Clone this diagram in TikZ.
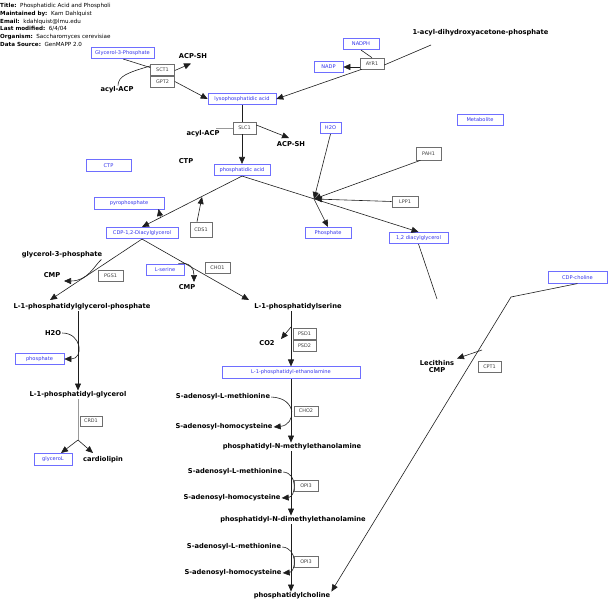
\documentclass[tikz,border=0pt]{standalone}
\usepackage{fontspec}
\setmainfont{DejaVu Sans}
\usetikzlibrary{arrows.meta}
\definecolor{metb}{RGB}{110,110,255}
\definecolor{mett}{RGB}{50,50,235}
\definecolor{geneb}{RGB}{110,110,110}
\definecolor{ln}{RGB}{30,30,30}
\begin{document}
\begin{tikzpicture}[x=1pt,y=-1pt,
  met/.style={draw=metb,line width=0.6pt,text=mett,font=\fontsize{5.1}{6}\selectfont,inner sep=0pt,minimum height=11.5pt},
  gene/.style={draw=geneb,line width=0.6pt,fill=white,text=black!75,font=\fontsize{4.9}{6}\selectfont,inner sep=0pt,minimum height=11pt,minimum width=24pt},
  lab/.style={font=\bfseries\fontsize{6.7}{7.6}\selectfont,inner sep=1pt},
  hdr/.style={font=\fontsize{5.6}{6.5}\selectfont,anchor=west,inner sep=0pt},
  conn/.style={draw=ln,line width=0.6pt},
  arr/.style={conn,-{Triangle[length=7pt,width=6pt]}},
  lite/.style={draw=gray!80,line width=0.6pt}]
\useasboundingbox (0,0) rectangle (615,610);
% header
\node[hdr] (h1) at (0,6) {\textbf{Title:}\ \ Phosphatidic Acid and Phospholi};
\node[hdr] (h2) at (0,14) {\textbf{Maintained by:}\ \ Kam Dahlquist};
\node[hdr] (h3) at (0,21.5) {\textbf{Email:}\ \ kdahlquist@lmu.edu};
\node[hdr] (h4) at (0,29) {\textbf{Last modified:}\ \ 6/4/04};
\node[hdr] (h5) at (0,37) {\textbf{Organism:}\ \ Saccharomyces cerevisiae};
\node[hdr] (h6) at (0,44.5) {\textbf{Data Source:}\ \ GenMAPP 2.0};
% metabolite boxes
\node[met,minimum width=63pt] (g3p) at (122.5,53) {Glycerol-3-Phosphate};
\node[met,minimum width=36pt] (nadph) at (361,44) {NADPH};
\node[met,minimum width=29pt] (nadp) at (328.5,67) {NADP};
\node[met,minimum width=68pt] (lyso) at (242,99) {lysophosphatidic acid};
\node[met,minimum width=21pt] (h2o) at (330.5,128) {H2O};
\node[met,minimum width=46pt] (metab) at (480,120) {Metabolite};
\node[met,minimum width=45pt] (ctpb) at (108.5,165.5) {CTP};
\node[met,minimum width=56pt] (pa) at (242,170) {phosphatidic acid};
\node[met,minimum width=70pt] (pyro) at (129,203.5) {pyrophosphate};
\node[met,minimum width=72pt] (cdp) at (142,233) {CDP-1,2-Diacylglycerol};
\node[met,minimum width=46pt] (phos) at (328,233) {Phosphate};
\node[met,minimum width=59pt] (dag) at (418.5,238) {1,2 diacylglycerol};
\node[met,minimum width=38pt] (ser) at (165,270) {L-serine};
\node[met,minimum width=59pt] (cdpch) at (577.5,277.5) {CDP-choline};
\node[met,minimum width=49pt] (phos2) at (39.5,359) {phosphate};
\node[met,minimum width=138pt] (pe) at (291,372.5) {L-1-phosphatidyl-ethanolamine};
\node[met,minimum width=38pt] (glyc) at (53,459.5) {glyceroL};
% gene boxes
\node[gene] (sct1) at (162.5,69.5) {SCT1};
\node[gene] (gpt2) at (162.5,81.5) {GPT2};
\node[gene] (ayr1) at (372,63.5) {AYR1};
\node[gene,minimum width=23pt,minimum height=12pt] (slc1) at (244.5,128) {SLC1};
\node[gene,minimum width=25pt,minimum height=13pt] (pah1) at (428.5,153.5) {PAH1};
\node[gene,minimum width=26pt] (lpp1) at (405,201.5) {LPP1};
\node[gene,minimum width=22pt,minimum height=15pt] (cds1) at (201,229.5) {CDS1};
\node[gene,minimum width=25pt] (cho1) at (217.5,267.5) {CHO1};
\node[gene,minimum width=25pt] (pgs1) at (110.5,275.5) {PGS1};
\node[gene,minimum width=23pt] (psd1) at (304.5,333.5) {PSD1};
\node[gene,minimum width=23pt] (psd2) at (304.5,345.5) {PSD2};
\node[gene,minimum width=23pt] (cpt1) at (489.5,366.5) {CPT1};
\node[gene,minimum width=22pt,minimum height=10pt] (crd1) at (91,421) {CRD1};
\node[gene,minimum width=24pt,minimum height=10pt] (cho2) at (306,411) {CHO2};
\node[gene,minimum width=24pt] (opi3a) at (306,485.5) {OPI3};
\node[gene,minimum width=24pt] (opi3b) at (306,561.5) {OPI3};
% bold labels
\node[lab] (acpsh1) at (193,56) {ACP-SH};
\node[lab] (acyl1) at (117,90) {acyl-ACP};
\node[lab] (adhap) at (480.5,33) {1-acyl-dihydroxyacetone-phosphate};
\node[lab] (acyl2) at (203,134) {acyl-ACP};
\node[lab] (acpsh2) at (291,144) {ACP-SH};
\node[lab] (ctp) at (186,161) {CTP};
\node[lab] (g3pl) at (62,255) {glycerol-3-phosphate};
\node[lab] (cmp1) at (52,275) {CMP};
\node[lab] (cmp2) at (187,287) {CMP};
\node[lab] (pgp) at (82,307) {L-1-phosphatidylglycerol-phosphate};
\node[lab] (ps) at (298,307) {L-1-phosphatidylserine};
\node[lab] (h2ol) at (53,333) {H2O};
\node[lab] (co2) at (267,343) {CO2};
\node[lab,align=center] (lec) at (437,366.5) {Lecithins\\CMP};
\node[lab] (pgl) at (78,395) {L-1-phosphatidyl-glycerol};
\node[lab] (card) at (103,459.5) {cardiolipin};
\node[lab] (sam1) at (223,397) {S-adenosyl-L-methionine};
\node[lab] (sah1) at (224,427) {S-adenosyl-homocysteine};
\node[lab] (pnme) at (292,447) {phosphatidyl-N-methylethanolamine};
\node[lab] (sam2) at (235,472) {S-adenosyl-L-methionine};
\node[lab] (sah2) at (232,498) {S-adenosyl-homocysteine};
\node[lab] (pdme) at (293,520) {phosphatidyl-N-dimethylethanolamine};
\node[lab] (sam3) at (234,547) {S-adenosyl-L-methionine};
\node[lab] (sah3) at (233,573) {S-adenosyl-homocysteine};
\node[lab] (pc) at (292,596) {phosphatidylcholine};
% coordinates
\coordinate (tacp1) at (191,63.5);
\coordinate (adhapend) at (431,45);
\coordinate (acyl2end) at (216,128);
\coordinate (tacp2) at (289,138);
\coordinate (cdsp) at (202,197);
\coordinate (pyrop) at (160.5,218);
\coordinate (pyrot) at (158.5,209);
\coordinate (hub) at (314,199);
\coordinate (dagend) at (437,299);
\coordinate (bend) at (511,297);
\coordinate (lecp) at (482,350);
\coordinate (lect) at (457,358.5);
\coordinate (tpgp) at (50,300);
\coordinate (tps) at (249,300);
\coordinate (cmp1t) at (64,281);
\coordinate (cmp2t) at (194,282);
\coordinate (co2p) at (291,327);
\coordinate (co2t) at (281,339);
\coordinate (crdp) at (78,440);
\coordinate (tglyc) at (61,453);
\coordinate (tcard) at (93,453);
% connectors top
\draw[conn] (g3p.south east) ++(-31,0) -- ([yshift=2pt]sct1.west);
\draw[conn] ([xshift=1pt]acyl1.north) .. controls (118,76) and (128,72.5) .. ([yshift=3.5pt]sct1.west);
\draw[arr] ([yshift=-1pt]sct1.east) -- (tacp1);
\draw[arr] (gpt2.east) -- (lyso.west);
\draw[conn] (adhapend) -- ([yshift=-1.5pt]ayr1.east);
\draw[conn] (nadph.south) -- (ayr1.north);
\draw[arr] (ayr1.west |- nadp.east) -- (nadp.east);
\draw[arr] ([xshift=2pt]ayr1.south west) -- (lyso.east);
\draw[conn] (lyso.south) -- (lyso.south |- slc1.north);
\draw[lite] (acyl2end) -- (slc1.west);
\draw[arr] ([yshift=3pt]slc1.east) -- (tacp2);
\draw[arr] (pa.north |- slc1.south) -- (pa.north);
% phosphatidic acid
\draw[arr] (pa.south) -- (cdp.north);
\draw[arr] ([xshift=-4pt]cds1.north) -- (cdsp);
\draw[arr] (pyrop) -- (pyrot);
\draw[arr] (pa.south) -- (dag.north);
\draw[arr] (h2o.south) -- (hub);
\draw[arr] ([xshift=-8pt]pah1.south) -- (hub);
\draw[arr] (lpp1.west) -- ([xshift=1pt]hub);
\draw[arr] (hub) -- (phos.north);
\draw[conn] (dag.south) -- (dagend);
% CDP-choline
\draw[arr] (cdpch.south) -- (bend) -- (pc.north east);
\draw[arr] (lecp) -- (lect);
% CDP-DAG branches
\draw[arr] (cdp.south) -- (tpgp);
\draw[arr] (cdp.south) -- (tps);
\draw[arr] ([xshift=-2pt]g3pl.south east) .. controls (94,266) and (88,281) .. (cmp1t);
\draw[arr] (ser.north east) ++(-6,-0.5) .. controls (190,262) and (194,268) .. (cmp2t);
% PG branch
\draw[arr] (pgp.south -| pgl.north) -- (pgl.north);
\draw[arr] (h2ol.east) .. controls (82,333) and (84,359) .. (phos2.east);
\draw[lite] (pgl.south) -- (crdp);
\draw[arr] (crdp) -- (tglyc);
\draw[arr] (crdp) -- (tcard);
% PS branch
\draw[arr] (ps.south -| pe.north) -- (pe.north);
\draw[arr] (co2p) -- (co2t);
\draw[arr] (pe.south) -- (pe.south |- pnme.north);
\draw[arr] (sam1.east) .. controls (298,398) and (296,425) .. (sah1.east);
\draw[arr] (pnme.south -| pe.south) -- (pe.south |- pdme.north);
\draw[arr] (sam2.east) .. controls (298,473) and (296,497) .. (sah2.east);
\draw[arr] (pdme.south -| pe.south) -- (pe.south |- pc.north);
\draw[arr] (sam3.east) .. controls (298,548) and (296,572) .. (sah3.east);
\end{tikzpicture}
\end{document}
